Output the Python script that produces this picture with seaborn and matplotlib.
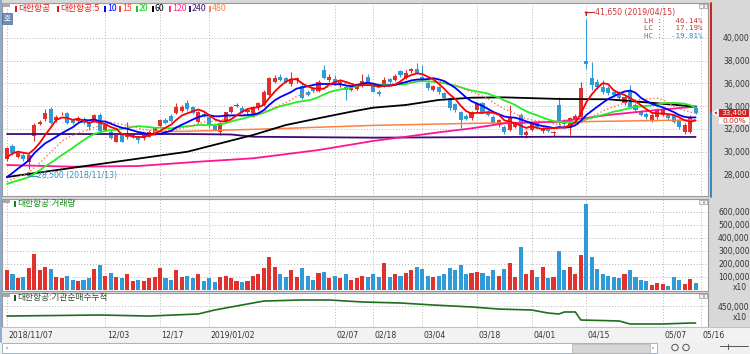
import matplotlib
matplotlib.use("Agg")
import numpy as np
import pandas as pd
import matplotlib.pyplot as plt
import seaborn as sns
from matplotlib.patches import Rectangle, Polygon

# ---------------- data ----------------
tick_idx = [0, 18, 28, 37, 60, 67, 76, 86, 96, 106, 120, 127]
tick_labels = ["2018/11/07", "12/03", "12/17", "2019/01/02", "02/07", "02/18",
               "03/04", "03/18", "04/01", "04/15", "05/07", "05/16"]

open_ = [29310, 30480, 29540, 29690, 29100, 31370, 32420, 32840, 33720, 32780,
         33370, 33370, 32780, 32690, 32840, 32630, 32690, 33220, 31900, 31750,
         30870, 31540, 31250, 31250, 31300, 31160, 31300, 31540, 32250, 32780,
         33130, 33420, 33600, 34300, 33950, 32630, 33300, 33070, 32300, 31690,
         32690, 33500, 34000, 33860, 33500, 33070, 33800, 34100, 34980, 36150,
         36600, 36500, 35920, 36300, 35800, 35270, 35600, 35330, 37180, 36300,
         36390, 35900, 35710, 35400, 35500, 35800, 36590, 35800, 35270, 35860,
         36400, 36300, 37090, 36500, 37100, 37300, 36590, 36000, 35420, 35710,
         35130, 34690, 34160, 33510, 33100, 32930, 33660, 34250, 33510, 33070,
         32340, 32190, 31900, 32190, 33220, 31450, 31900, 32500, 31800, 32100,
         31600, 34100, 32600, 32050, 32900, 33070, 38000, 36450, 36150, 35710,
         35570, 35270, 35130, 34250, 35420, 34100, 33510, 33300, 32780, 33070,
         33220, 33220, 33220, 32780, 31750, 31750, 33800]
high = [30400, 30650, 30000, 29900, 29800, 32500, 32800, 33750, 33900, 33200,
        33500, 33450, 32900, 33100, 33000, 32700, 33300, 33350, 32500, 31900,
        31600, 31650, 32620, 31600, 31400, 31550, 31900, 32150, 32900, 32950,
        33300, 34300, 34100, 34500, 34050, 33600, 33500, 33200, 32500, 32600,
        33500, 34000, 34300, 34000, 33800, 34000, 34400, 35400, 36600, 36700,
        36800, 36600, 37020, 36600, 36000, 35400, 35700, 36300, 37600, 36800,
        36700, 36300, 35900, 35800, 35900, 36800, 36800, 35900, 35400, 36600,
        36500, 36800, 37200, 37180, 37400, 37770, 37620, 36200, 35900, 35800,
        35200, 34800, 34300, 33600, 33300, 33600, 34300, 34400, 33700, 33200,
        32900, 32300, 34100, 32600, 33400, 31900, 32600, 32600, 32200, 32200,
        31800, 34830, 32900, 33000, 33300, 36150, 41650, 37900, 36400, 36300,
        35800, 35500, 35300, 34900, 35860, 34300, 33700, 33500, 33400, 33800,
        33800, 33400, 33300, 32900, 32500, 33200, 34100]
low = [29200, 29700, 29400, 29200, 28500, 30900, 32300, 32700, 32400, 32600,
       33200, 32400, 32400, 32600, 32400, 31900, 32600, 31700, 31800, 31100,
       30800, 30800, 31100, 31150, 30720, 31050, 31250, 31450, 32150, 32400,
       32600, 33300, 33500, 33600, 33300, 32500, 33000, 32070, 31800, 31450,
       32600, 33400, 33900, 33400, 33200, 33000, 33700, 34000, 34900, 36000,
       36200, 36000, 35800, 36000, 34600, 34900, 35200, 35200, 36400, 36100,
       35900, 35700, 34540, 35300, 35400, 35700, 36000, 35200, 34900, 35700,
       36000, 36200, 36600, 36400, 36900, 36800, 36200, 35400, 35300, 35100,
       34600, 33700, 33500, 32100, 32800, 32800, 33500, 33400, 33100, 32400,
       32200, 31500, 31800, 32100, 31300, 31200, 31800, 32100, 31600, 31700,
       31400, 32300, 32200, 31450, 32700, 32900, 37300, 35420, 35500, 35100,
       35000, 34800, 34500, 34100, 33800, 33500, 33100, 32900, 32600, 32900,
       33100, 32800, 32500, 32000, 31500, 31600, 33300]
close = [30280, 29840, 29900, 29310, 29690, 32335, 32620, 33370, 32490, 33070,
         33400, 32490, 32490, 32920, 32490, 32190, 33220, 31830, 32340, 31160,
         31450, 30870, 31600, 31450, 31010, 31450, 31750, 32040, 32780, 32490,
         32710, 33950, 33950, 33720, 33370, 33500, 33100, 32340, 31900, 32490,
         33450, 33950, 34100, 33500, 33700, 33950, 34250, 35220, 36500, 36500,
         36300, 36150, 36390, 36450, 34740, 34980, 35300, 36150, 36500, 36600,
         36010, 36100, 35420, 35700, 35800, 36200, 36150, 35270, 35040, 36300,
         36150, 36650, 36740, 36890, 37250, 36900, 36300, 35570, 35800, 35270,
         34690, 33810, 33660, 32780, 32880, 33510, 34250, 33510, 33220, 32490,
         32780, 31750, 32930, 32480, 31450, 31750, 32490, 32200, 32100, 31800,
         31700, 32630, 32400, 32930, 33100, 35570, 37700, 35860, 35710, 35270,
         35130, 34980, 34690, 34830, 33950, 33660, 33220, 33000, 33220, 33660,
         33660, 32930, 32630, 32190, 32340, 33070, 33400]
prior_close = [26800, 26700, 26600, 26500, 26400, 26300, 26500, 26600, 26400, 26500,
               26300, 26000, 25800, 25900, 26000, 28200, 29100, 29800, 30120]
volume = [150, 120, 90, 100, 170, 280, 150, 180, 160, 100,
          90, 110, 80, 70, 80, 90, 160, 190, 110, 130,
          100, 90, 120, 70, 80, 70, 90, 100, 170, 90,
          80, 150, 100, 110, 90, 120, 70, 90, 60, 100,
          110, 90, 70, 60, 70, 110, 120, 170, 250, 180,
          120, 100, 150, 100, 170, 110, 80, 130, 140, 90,
          110, 90, 120, 80, 90, 110, 100, 120, 100, 210,
          100, 120, 110, 130, 150, 180, 160, 110, 100, 110,
          120, 170, 150, 190, 120, 130, 140, 130, 110, 150,
          110, 160, 210, 100, 330, 120, 150, 100, 180, 90,
          100, 300, 150, 180, 120, 270, 660, 250, 160, 120,
          110, 100, 90, 120, 150, 100, 80, 70, 38, 54,
          46, 31, 102, 77, 46, 85, 54]  # thousands (x10 shares)

ma60_idx = [0, 17, 33, 45, 51, 57, 63, 67, 73, 79, 85, 91, 101, 110, 119, 126]
ma60_val = [27750, 28900, 29980, 31450, 32330, 32930, 33510, 33860, 34100, 34540,
            34740, 34770, 34630, 34600, 34250, 33950]
ma120_idx = [0, 12, 24, 35, 45, 57, 67, 73, 79, 85, 91, 101, 110, 119, 126]
ma120_val = [28810, 28660, 28720, 29100, 29400, 30130, 30930, 31300, 31690, 32040,
             32480, 32630, 33220, 33660, 33950]
ma240_idx = [0, 33, 41, 45, 67, 101, 126]
ma240_val = [31540, 31540, 31500, 31300, 31220, 31300, 31280]
ma480_idx = [27, 33, 51, 67, 85, 101, 126]
ma480_val = [31750, 31780, 32040, 32300, 32480, 32600, 32780]

cum_idx = [0, 17, 26, 35, 38, 43, 47, 54, 59, 65, 72, 78, 85, 90, 96, 99, 101, 102,
           104, 105, 112, 114, 120, 125, 126]
cum_val = [346, 357, 346, 368, 410, 463, 505, 516, 516, 495, 484, 463, 442, 420, 410,
           378, 368, 389, 389, 304, 294, 262, 262, 272, 272]  # thousands

# ---------------- figure ----------------
sns.set_style("white")
plt.rcParams['font.family'] = ['DejaVu Sans', 'Noto Sans CJK KR']
KR = ['Noto Sans CJK KR', 'DejaVu Sans']

W, H = 750, 354
fig = plt.figure(figsize=(7.5, 3.54), dpi=100, facecolor='#d8d8d8')

def px_axes(x0, y0, x1, y1, **kw):
    return fig.add_axes([x0 / W, 1 - y1 / H, (x1 - x0) / W, (y1 - y0) / H], **kw)

S = 5.465
XL = ((2 - 7) / S, (708 - 7) / S)
ax_p = px_axes(2, 3, 708, 196)
ax_v = px_axes(2, 199, 708, 291)
ax_c = px_axes(2, 293, 708, 327)

UP = '#e2302c'
DN = '#2e9bd8'
GRID = dict(color='#b4b4b4', linestyle=(0, (1, 2)), linewidth=0.7)

n = len(close)
x = np.arange(n)
o = np.array(open_, float); c = np.array(close, float)
h = np.array(high, float); l = np.array(low, float)
up = c >= o
cols = np.where(up, UP, DN)

full = pd.Series(prior_close + close, dtype=float)
ma = {k: full.rolling(k).mean().iloc[len(prior_close):].to_numpy() for k in (5, 10, 15, 20)}

for ax in (ax_p, ax_v, ax_c):
    ax.set_facecolor('white')
    ax.set_xlim(*XL)
    for sp in ax.spines.values():
        sp.set_color('#9a9a9a'); sp.set_linewidth(0.8)
    ax.set_xticks(tick_idx)
    ax.set_xticklabels([])
    ax.tick_params(axis='x', length=0)
    ax.yaxis.tick_right()
    ax.tick_params(axis='y', length=0, pad=30, labelsize=5.5, colors='#333333')
    ax.grid(True, **GRID)
    ax.set_axisbelow(True)

# price panel
ax_p.set_ylim(26080, 43083)
pt = list(range(28000, 40001, 2000))
ax_p.set_yticks(pt)
ax_p.set_yticklabels([f"{v:,}" for v in pt])
ax_p.vlines(x, l, h, colors=cols, linewidth=0.8, zorder=3)
ax_p.bar(x, np.maximum(np.abs(c - o), 30), bottom=np.minimum(o, c), width=0.75,
         color=cols, linewidth=0, zorder=4)

lines = [
    (ma480_idx, ma480_val, '#ff8040', '-', 1.1),
    (ma240_idx, ma240_val, '#3c0a78', '-', 1.3),
    (ma120_idx, ma120_val, '#ff1493', '-', 1.3),
    (ma60_idx, ma60_val, '#000000', '-', 1.3),
    (list(x), ma[20], '#22ee22', '-', 1.3),
    (list(x), ma[15], '#ff7050', ':', 1.0),
    (list(x), ma[10], '#0000ff', '-', 1.3),
    (list(x), ma[5], '#ff0000', '-', 1.3),
]
for xi, yi, colr, ls, lw in lines:
    sns.lineplot(x=xi, y=yi, ax=ax_p, color=colr, linestyle=ls, linewidth=lw,
                 zorder=5, legend=False, sort=False, estimator=None)

# high / low marks
hi_i = int(np.argmax(h)); lo_i = int(np.argmin(l))
ax_p.annotate("", xy=(hi_i, h[hi_i] + 80), xytext=(hi_i, 42250),
              arrowprops=dict(arrowstyle='-|>', color='#cc2222', lw=0.8, mutation_scale=4))
ax_p.plot([hi_i, hi_i + 1.5], [42250, 42250], color='#cc2222', lw=0.8, zorder=6)
ax_p.text(hi_i + 1.6, 42250, f"{int(h[hi_i]):,} (2019/04/15)", color='#cc3333',
          fontsize=5.6, va='center', ha='left', zorder=6)
ax_p.annotate("", xy=(lo_i, l[lo_i] - 80), xytext=(lo_i, 27880),
              arrowprops=dict(arrowstyle='-|>', color='#3a8fc0', lw=0.8, mutation_scale=4))
ax_p.plot([lo_i, lo_i + 1.4], [27880, 27880], color='#3a8fc0', lw=0.8, zorder=6)
ax_p.text(lo_i + 1.5, 27880, f"{int(l[lo_i]):,} (2018/11/13)", color='#3a8fc0',
          fontsize=5.6, va='center', ha='left', zorder=6)

last = c[-1]
lh = (h.max() - l.min()) / l.min() * 100
lc = (last - l.min()) / l.min() * 100
hc = (last - h.max()) / h.max() * 100
for k, (lab, val, colr) in enumerate([("LH", lh, '#cc3333'), ("LC", lc, '#cc3333'),
                                      ("HC", hc, '#2a8fc8')]):
    ax_p.text(127.2, 41500 - k * 660, f"{lab} : {val:7.2f}%", color=colr, fontsize=5.4,
              ha='right', va='center', family='DejaVu Sans Mono', zorder=6)

# volume panel
ax_v.set_ylim(-7700, 700000)
vt = list(range(100000, 600001, 100000))
ax_v.set_yticks(vt)
ax_v.set_yticklabels([f"{v:,}" for v in vt])
ax_v.bar(x, np.array(volume) * 1000, width=0.75, color=cols, linewidth=0, zorder=3)

# institutional cumulative panel
ax_c.set_ylim(230000, 590000)
ax_c.set_yticks([450000])
ax_c.set_yticklabels(["450,000"])
sns.lineplot(x=cum_idx, y=np.array(cum_val) * 1000, ax=ax_c, color='#1e6e1e',
             linewidth=1.2, legend=False, sort=False, estimator=None, zorder=4)

for ax in (ax_p, ax_v, ax_c):
    ax.set_xlabel(''); ax.set_ylabel('')
    for t in ax.get_yticklabels():
        t.set_horizontalalignment('right')

# ---------------- overlay decorations (pixel coords) ----------------
ov = fig.add_axes([0, 0, 1, 1], zorder=10)
ov.set_xlim(0, W); ov.set_ylim(H, 0); ov.axis('off'); ov.patch.set_alpha(0)

def rect(x0, y0, x1, y1, fc, ec='none', lw=0, z=1):
    ov.add_patch(Rectangle((x0, y0), x1 - x0, y1 - y0, facecolor=fc, edgecolor=ec,
                           linewidth=lw, zorder=z))

# left border
ov.plot([1, 1], [0, 342], color='#7da2ce', lw=1.2)

# legend row
legend_items = [("대한항공", '#dd1c1c', 15), ("대한항공:5", '#ee1111', 57), ("10", '#0000ff', 104),
                ("15", '#ff3b1f', 119), ("20", '#11cc11', 136), ("60", '#000000', 152),
                ("120", '#ff2a8a', 169), ("240", '#40107a', 189), ("480", '#ff8040', 209)]
for txt, colr, xm in legend_items:
    rect(xm, 5.5, xm + 1.6, 11.5, colr, z=3)
    ov.text(xm + 2.8, 8.6, txt, color=colr, fontsize=6.3, family=KR, va='center', ha='left')
rect(3, 3, 10, 6.5, '#a8a8a8', z=3)
rect(2, 13, 12, 24, '#6b8fb8', ec='#4a6a90', lw=0.5, z=3)
ov.text(7, 18.5, "호", color='white', fontsize=5.5, family=KR, ha='center', va='center')

# volume & cumulative labels
rect(3, 199.5, 10, 203, '#a8a8a8', z=3)
rect(14, 200.5, 15.6, 206.5, '#118811', z=3)
ov.text(16.8, 203.6, "대한항공:거래량", color='#118811', fontsize=6.3, family=KR, va='center')
rect(3, 293.5, 10, 297, '#a8a8a8', z=3)
rect(14, 294.5, 15.6, 300.5, '#2d4d2d', z=3)
ov.text(16.8, 297.6, "대한항공:기관순매수누적", color='#2d4d2d', fontsize=6.3, family=KR, va='center')

# tiny panel buttons
for yb in (4, 200, 294):
    rect(699, yb, 702.5, yb + 3.5, '#f4f4f4', ec='#999999', lw=0.5, z=3)
    rect(703.5, yb, 707, yb + 3.5, '#f4f4f4', ec='#999999', lw=0.5, z=3)

# x10 unit labels
ov.text(747, 288, "x10", color='#333333', fontsize=5.5, ha='right', va='center')
ov.text(747, 318, "x10", color='#333333', fontsize=5.5, ha='right', va='center')

# current price bar & box
yp = 3 + (43083 - last) / (43083 - 26080) * 193
ov.plot([711, 711], [3, yp], color='#cc1111', lw=1.3, zorder=4)
ov.plot([711, 711], [yp, 197], color='#2a7fc0', lw=1.3, zorder=4)
ov.add_patch(Polygon([(713, yp), (717.5, yp - 3), (717.5, yp + 3)], closed=True,
                     facecolor='#cc1111', zorder=5))
rect(719, yp - 3.8, 749, yp + 4.2, '#d42020', z=5)
ov.text(734, yp + 0.3, f"{int(last):,}", color='white', fontsize=5.3, ha='center',
        va='center', zorder=6)
rect(719, yp + 4.2, 749, yp + 11.2, 'white', z=5)
ov.text(734, yp + 7.8, "0.00%", color='#cc2222', fontsize=5.3, ha='center', va='center', zorder=6)

# date strip
rect(0, 327, W, 342, '#f2f2f2', z=0)
ov.plot([0, W], [327.3, 327.3], color='#b8b8b8', lw=0.6)
for ti, tl in zip(tick_idx, tick_labels):
    xp = 7 + S * ti
    ov.text(xp + 1.5, 335, tl, color='#333333', fontsize=5.6, ha='left', va='center')

# scrollbar
rect(0, 342, W, 354, '#f0f0f0', z=0)
rect(2, 343, 657, 353, 'white', ec='#9aa8b8', lw=0.6, z=1)
rect(572, 343.5, 650, 352.5, '#d6d6d6', ec='#b0b0b0', lw=0.5, z=2)
ov.add_patch(Polygon([(5, 348), (8, 345.5), (8, 350.5)], closed=True, facecolor='#333333', zorder=3))
ov.add_patch(Polygon([(655, 348), (652, 345.5), (652, 350.5)], closed=True, facecolor='#333333', zorder=3))
for xc in (675, 686):
    ov.add_patch(plt.Circle((xc, 347.5), 3.2, fill=False, ec='#555555', lw=0.7, zorder=3))
ov.plot([720, 748], [346, 346], color='#555555', lw=0.7)
ov.plot([728, 728], [344, 349], color='#555555', lw=0.7)

fig.savefig("out.png", dpi=100, facecolor=fig.get_facecolor())
